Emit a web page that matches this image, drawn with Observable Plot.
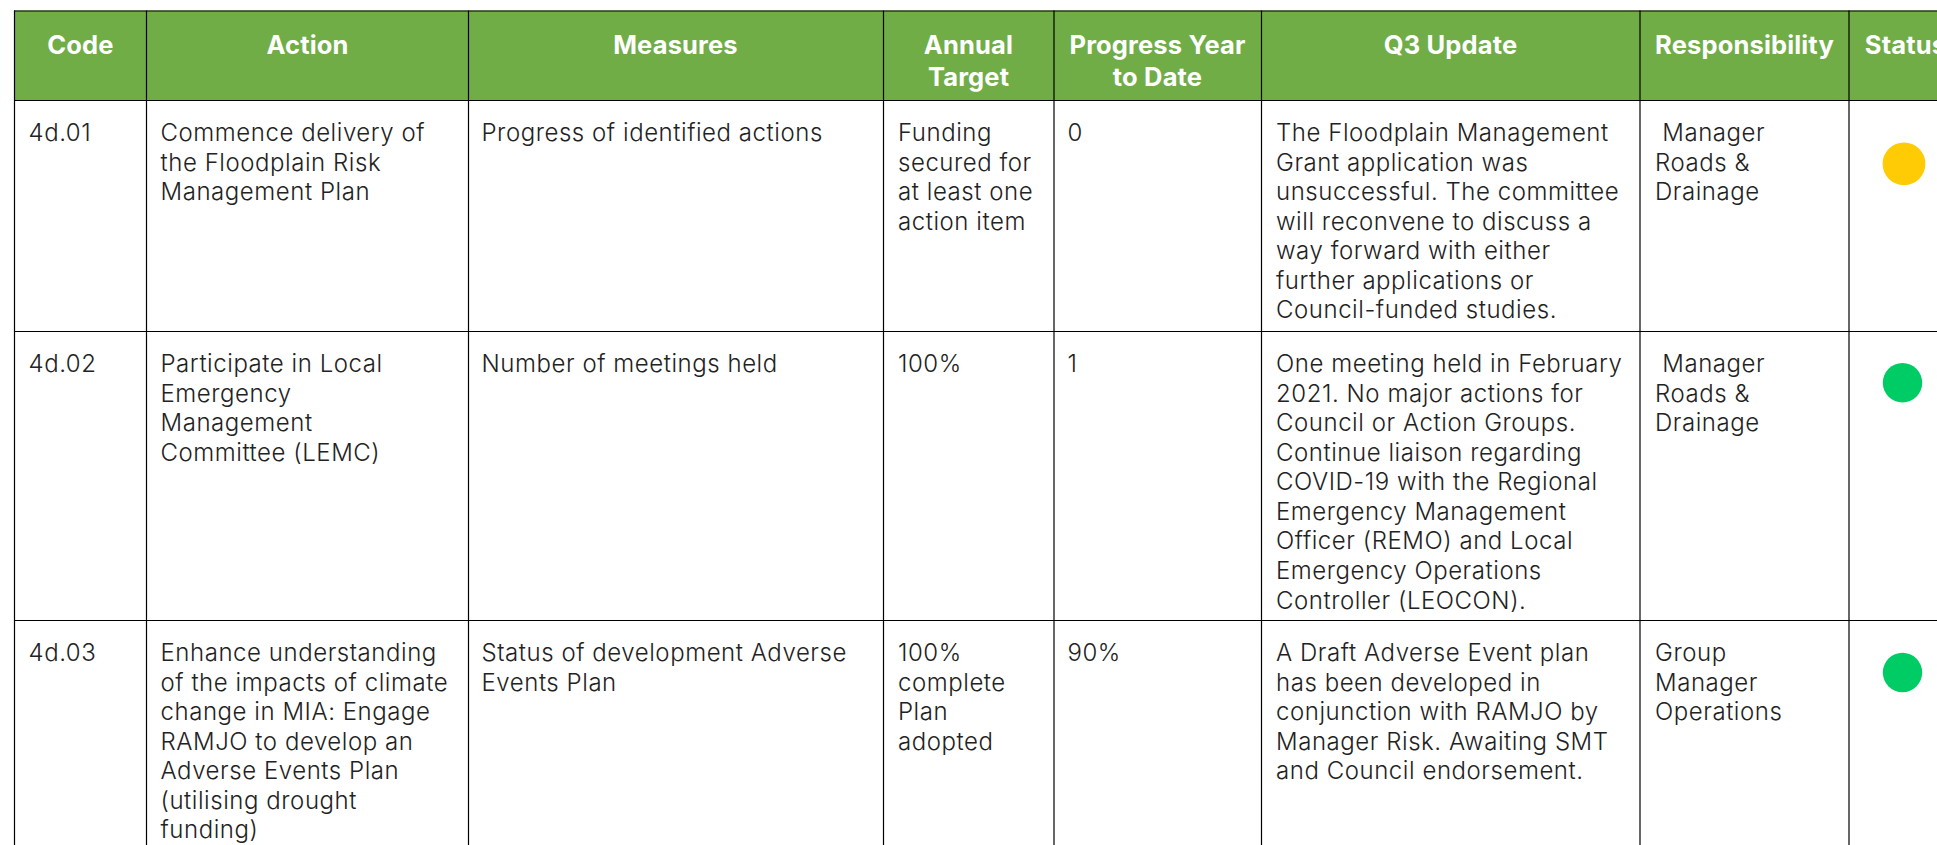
<!DOCTYPE html>
<html><head><meta charset="utf-8">
<script src="https://cdn.jsdelivr.net/npm/d3@7"></script>
<script src="https://cdn.jsdelivr.net/npm/@observablehq/plot@0.6"></script>
<style>html,body{margin:0;padding:0;background:#fff;overflow:hidden}svg{display:block}</style>
</head><body><div id="c"></div><script>
const headers = [["Code"],["Action"],["Measures"],["Annual","Target"],["Progress Year","to Date"],["Q3 Update"],["Responsibility"],["Status"]];
const codes = ["4d.01","4d.02","4d.03"];
const actions = [
 ["Commence delivery of","the Floodplain Risk","Management Plan"],
 ["Participate in Local","Emergency","Management","Committee (LEMC)"],
 ["Enhance understanding","of the impacts of climate","change in MIA: Engage","RAMJO to develop an","Adverse Events Plan","(utilising drought","funding)"]];
const measures = [
 ["Progress of identified actions"],
 ["Number of meetings held"],
 ["Status of development Adverse","Events Plan"]];
const targets = [
 ["Funding","secured for","at least one","action item"],
 ["100%"],
 ["100%","complete","Plan","adopted"]];
const progress = [["0"],["1"],["90%"]];
const updates = [
 ["The Floodplain Management","Grant application was","unsuccessful. The committee","will reconvene to discuss a","way forward with either","further applications or","Council-funded studies."],
 ["One meeting held in February","2021. No major actions for","Council or Action Groups.","Continue liaison regarding","COVID-19 with the Regional","Emergency Management","Officer (REMO) and Local","Emergency Operations","Controller (LEOCON)."],
 ["A Draft Adverse Event plan","has been developed in","conjunction with RAMJO by","Manager Risk. Awaiting SMT","and Council endorsement."]];
const owners = [
 ["\u00a0Manager","Roads &","Drainage"],
 ["\u00a0Manager","Roads &","Drainage"],
 ["Group","Manager","Operations"]];
const statuses = ["amber","green","green"];

// table layout
const colEdges = [14,146,468,883,1053.5,1261,1639.5,1848.5];
const rowEdges = [10.5,100,331,620];
const colText = [28,160,481,897.5,1067,1275.5,1654.5];
const lineStep = 29.55, firstOffset = 33;
const headFirst = 45, headStep = 32;
const headCenters = [80,307,675,968,1157,1450,1744,1905];
const dotCenters = [[1903.5,163.3],[1902,382.3],[1902,672]];
const dotRadius = {amber:21.4,green:19.7};
const columns = [codes.map(c=>[c]),actions,measures,targets,progress,updates,owners];

const body = [];
columns.forEach((col,c)=>col.forEach((cell,r)=>cell.forEach((line,i)=>
  body.push({x:colText[c],y:rowEdges[r+1]+firstOffset+i*lineStep,t:line}))));
const head = [];
headers.forEach((h,c)=>h.forEach((t,i)=>head.push({x:headCenters[c],y:headFirst+i*headStep,t})));
const dots = statuses.map((s,r)=>({x:dotCenters[r][0],y:dotCenters[r][1],s,r:dotRadius[s]}));

const font = "Inter, sans-serif";
const plot = Plot.plot({
  width:1937,height:845,margin:0,
  x:{type:"linear",domain:[0,1937],range:[0,1937],axis:null},
  y:{type:"linear",domain:[0,845],range:[0,845],axis:null},
  r:{type:"identity"},
  color:{type:"ordinal",domain:["amber","green"],range:["#ffcb05","#00cc66"]},
  style:{background:"#fff"},
  marks:[
    Plot.rect([0],{x1:colEdges[0],x2:1937,y1:rowEdges[0],y2:rowEdges[1],fill:"#70ad47"}),
    Plot.ruleX(colEdges,{y1:rowEdges[0],y2:845,stroke:"#000",strokeWidth:1.2}),
    Plot.ruleY(rowEdges,{x1:colEdges[0],x2:1937,stroke:"#000",strokeWidth:1.2}),
    Plot.text(head,{x:"x",y:"y",text:"t",fill:"#fff",fontSize:25.5,fontWeight:700,fontFamily:font,textAnchor:"middle"}),
    Plot.text(body,{x:"x",y:"y",text:"t",fill:"#222",fontSize:24,fontWeight:300,fontFamily:font,textAnchor:"start"}),
    Plot.dot(dots,{x:"x",y:"y",r:"r",fill:"s",stroke:"none"})
  ]
});
const groups = d3.select(plot).selectAll('g[aria-label="text"]').nodes();
groups[0].style.letterSpacing = "0.15px";
groups[1].style.letterSpacing = "0.55px";
document.getElementById("c").append(plot);
</script></body></html>
